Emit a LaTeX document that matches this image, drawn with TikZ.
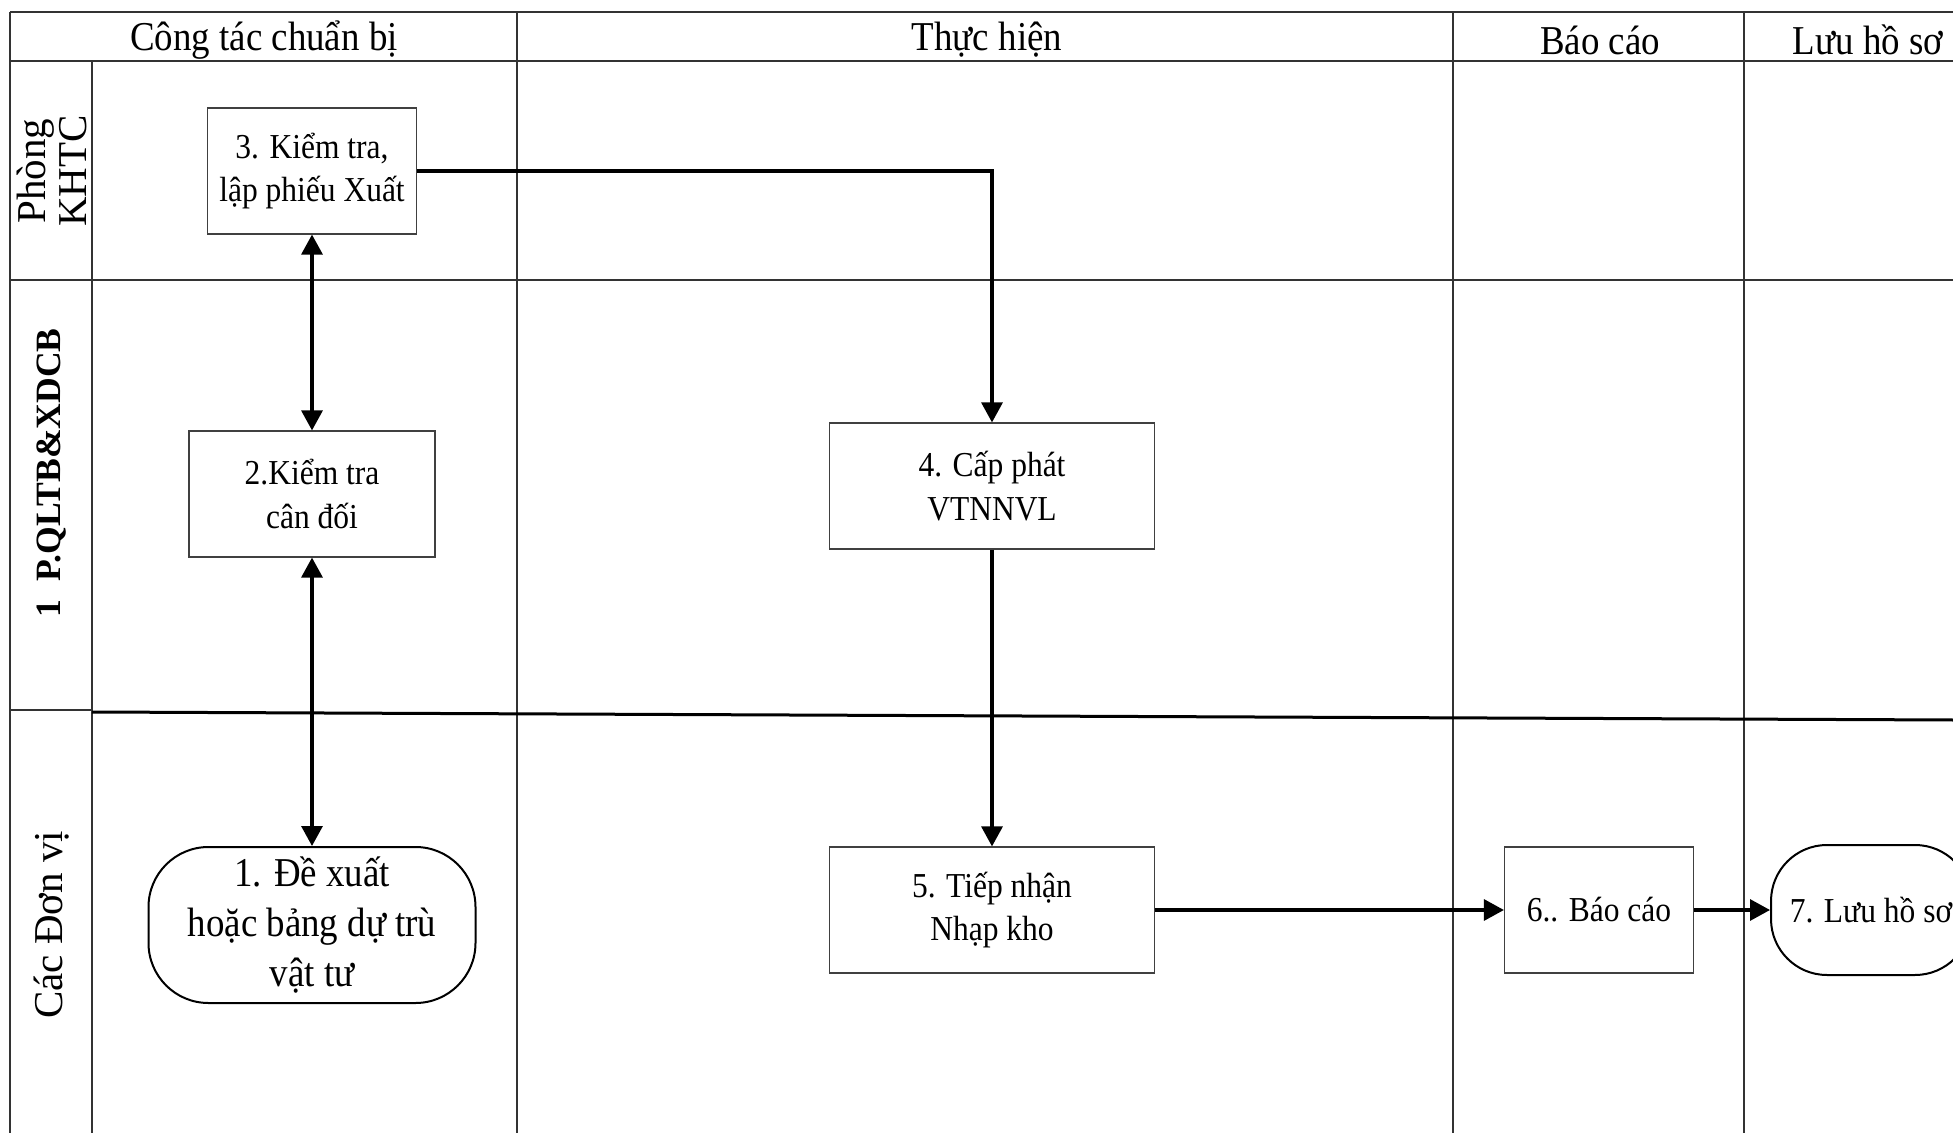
\documentclass[tikz,border=0pt]{standalone}
\usepackage{fontspec}
\setmainfont[FakeStretch=0.9]{Liberation Serif}
\newfontfamily\lanefont{Liberation Serif}
\usetikzlibrary{arrows.meta}

\tikzset{
    cell/.style={draw=black!75, line width=0.6pt, fill=white, align=center, inner sep=2pt,
        minimum height=63pt, font=\fontsize{17.5pt}{21.8pt}\selectfont},
    term/.style={draw=black, line width=1pt, fill=white, align=center, inner sep=0pt,
        rounded corners=30pt, font=\fontsize{20.5pt}{25pt}\selectfont},
    flow/.style={line width=1.6pt, -{Triangle[length=10pt,width=10.5pt]}},
    both/.style={line width=1.6pt, {Triangle[length=10pt,width=10.5pt]}-{Triangle[length=10pt,width=10.5pt]}},
    lane/.style={black!80, line width=1pt},
    head/.style={font=\fontsize{20.5pt}{24pt}\selectfont},
    side/.style={rotate=90, align=center, font=\lanefont\fontsize{20.5pt}{20.5pt}\selectfont},
}

\begin{document}
\begin{tikzpicture}[x=0.5pt, y=-0.5pt]

    \useasboundingbox (0,0) rectangle (1953,1133);
    \clip (0,0) rectangle (1953,1133);

    % Swimlane grid
    \draw[lane] (10,12) -- (1953,12);
    \draw[lane] (10,61) -- (1953,61);
    \foreach \x in {10,517,1453,1744}
        \draw[lane] (\x,12) -- (\x,1133);
    \draw[lane] (92,61) -- (92,1133);
    \draw[lane, line width=0.7pt] (10,280) -- (1953,280);
    \draw[lane, line width=0.7pt] (10,710) -- (92,710);
    \draw[line width=1.5pt] (92,712) -- (1953,720);

    % Column headers
    \node[head] (hPrep) at (264,40) {Công tác chuẩn bị};
    \node[head] (hDo) at (987,40) {Thực hiện};
    \node[head] (hReport) at (1600,40) {Báo cáo};
    \node[head] (hFile) at (1868,40) {Lưu hồ sơ};

    % Lane labels
    \node[side] (lKHTC) at (52,171) {Phòng\\KHTC};
    \node[side, font=\lanefont\bfseries\fontsize{17.8pt}{20pt}\selectfont] (lQLTB) at (52,473) {1\ \ P.QLTB\&XDCB};
    \node[side] (lDonvi) at (52,925) {Các Đơn vị};

    % Steps
    \node[cell, minimum width=104.5pt] (s3) at (312,171) {3. Kiểm tra,\\ lập phiếu Xuất};
    \node[cell, minimum width=123pt] (s2) at (312,494) {2.Kiểm tra\\cân đối};
    \node[term, minimum width=163.5pt, minimum height=78pt] (s1) at (312,925) {1. Đề xuất\\hoặc bảng dự trù\\vật tư};
    \node[cell, minimum width=162.5pt] (s4) at (992,486) {4. Cấp phát\\VTNNVL};
    \node[cell, minimum width=162.5pt] (s5) at (992,910) {5. Tiếp nhận\\Nhạp kho};
    \node[cell, minimum width=94.5pt] (s6) at (1599,910) {6.. Báo cáo};
    \node[term, rounded corners=28pt, font=\fontsize{17.5pt}{21.8pt}\selectfont,
        minimum width=100pt, minimum height=65pt] (s7) at (1871,910) {7. Lưu hồ sơ};

    % Connectors
    \draw[flow] (s3.east) -| (s4.north);
    \draw[both] (s3.south) -- (s2.north);
    \draw[both] (s2.south) -- (s1.north);
    \draw[flow] (s4.south) -- (s5.north);
    \draw[flow] (s5.east) -- (s6.west);
    \draw[flow] (s6.east) -- (s7.west);

\end{tikzpicture}
\end{document}
